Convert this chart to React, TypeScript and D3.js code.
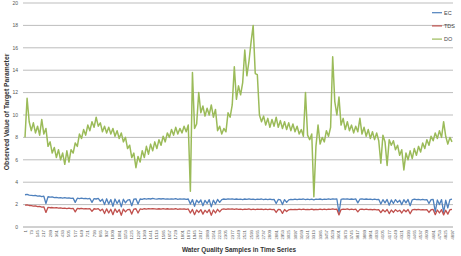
import * as d3 from 'd3';

const W = 461;
const H = 256;

// one stored value every SAMPLE_STEP samples
const SAMPLE_STEP = 24;
const LABEL_STEP = 72;

const doValues = [
  8.0, 11.5, 9.4, 8.6, 9.3, 8.4, 9.0, 8.2, 9.6, 8.3,
  8.8, 7.2, 7.6, 6.6, 7.1, 6.2, 6.9, 6.0, 6.6, 5.6,
  6.8, 5.8, 6.9, 6.6, 7.5, 7.2, 8.3, 7.9, 8.7, 8.2,
  9.1, 8.6, 9.4, 8.9, 9.8, 9.0, 9.3, 8.5, 9.0, 8.4,
  8.9, 8.3, 8.8, 8.1, 8.6, 7.9, 8.4, 7.6, 8.0, 7.0,
  7.3, 6.2, 6.6, 5.3, 6.3, 5.8, 6.8, 6.2, 7.2, 6.5,
  7.4, 6.8, 7.6, 7.0, 7.8, 7.3, 8.1, 7.6, 8.4, 8.0,
  8.7, 8.2, 8.9, 8.3, 8.8, 8.4, 9.0, 8.5, 9.1, 3.2,
  13.8, 8.8, 9.2, 12.0, 10.2, 10.8, 9.9, 10.6, 10.0, 10.9,
  9.8, 10.5, 8.6, 9.0, 8.3, 8.8, 8.5, 10.2, 9.8, 10.9,
  14.3, 11.4, 12.6, 11.8, 12.9, 15.8, 13.5, 14.8, 16.5, 18.0,
  13.7, 13.6, 10.0, 9.4, 9.9, 9.1, 9.7, 8.9, 9.6, 9.0,
  9.8, 8.9, 9.5, 8.8, 9.4, 8.7, 9.3, 8.6, 9.2, 8.5,
  9.0, 8.3, 8.7, 8.1, 12.0, 8.2, 7.8, 8.3, 2.7, 7.2,
  9.1, 7.4, 8.0, 7.6, 8.6, 8.1, 8.9, 15.2, 11.2, 10.0,
  11.6, 9.1, 9.7, 8.7, 9.4, 8.6, 9.1, 8.4, 9.0, 8.5,
  9.7, 8.3, 8.9, 8.1, 8.7, 7.9, 8.5, 7.8, 8.4, 7.7,
  5.7, 8.2, 7.6, 5.5, 7.8, 7.3, 7.7, 6.9, 7.3, 6.4,
  6.9, 5.1, 6.6, 6.0, 6.8, 6.1, 7.0, 6.4, 7.2, 6.7,
  7.5, 7.0, 7.8, 7.3, 8.1, 7.7, 8.4, 7.9, 8.6, 8.0,
  9.4, 8.1, 7.4, 8.0, 7.6,
];

const ecValues = [
  2.88, 2.92, 2.85, 2.83, 2.8, 2.82, 2.76, 2.78, 2.72, 2.75,
  2.1, 2.7, 2.66, 2.68, 2.62, 2.65, 2.6, 2.63, 2.58, 2.62,
  2.57, 2.6, 2.55, 2.58, 2.2, 2.57, 2.54, 2.58, 2.53, 2.56,
  2.52, 2.55, 2.2, 2.54, 2.5, 2.55, 2.3, 2.48, 2.0, 2.52,
  2.05, 2.45, 1.85, 2.5, 2.1, 2.42, 1.8, 2.48, 2.15, 2.4,
  2.45, 1.9, 2.48, 2.52, 2.05, 2.5, 2.46, 2.53, 2.49, 2.54,
  2.5, 2.55, 2.51, 2.48, 2.53, 2.5, 2.54, 2.49, 2.52, 2.48,
  2.52, 2.49, 2.53, 2.47, 2.51, 2.48, 2.52, 2.46, 2.5, 2.05,
  2.45, 1.85, 2.4, 2.15, 2.42, 1.9, 2.38, 2.1, 2.44, 1.8,
  2.4, 2.05, 2.46, 2.2, 2.45, 2.5, 2.47, 2.52, 2.48, 2.51,
  2.47, 2.5, 2.46, 2.49, 2.45, 2.5, 2.47, 2.51, 2.46, 2.49,
  2.45, 2.48, 2.46, 2.5, 2.44, 2.48, 2.45, 2.49, 2.44, 2.47,
  2.1, 2.46, 2.43, 2.0, 2.45, 2.2, 2.42, 2.47, 2.44, 2.48,
  2.45, 2.49, 2.46, 2.5, 2.44, 2.48, 2.45, 2.49, 2.43, 2.48,
  2.46, 2.5, 2.45, 2.49, 2.46, 2.51, 2.47, 2.52, 2.48, 2.5,
  1.25, 2.47, 2.51, 2.48, 2.52, 2.46, 2.5, 2.47, 2.51, 2.15,
  2.48, 2.52, 2.47, 2.5, 2.46, 2.49, 2.45, 2.48, 2.44, 2.47,
  2.05, 2.44, 2.15, 2.46, 1.95, 2.42, 2.1, 2.45, 2.2, 2.4,
  2.0, 2.44, 2.15, 2.46, 1.9, 2.43, 2.48, 2.44, 2.47, 2.43,
  2.46, 2.42, 2.45, 2.1, 2.44, 2.47, 1.35, 2.42, 2.0, 2.45,
  1.3, 2.4, 1.7, 2.44, 2.48,
];

const tdsValues = [
  1.95, 1.98, 1.92, 1.9, 1.86, 1.88, 1.82, 1.84, 1.78, 1.8,
  1.3, 1.76, 1.72, 1.74, 1.7, 1.72, 1.68, 1.7, 1.66, 1.69,
  1.65, 1.68, 1.64, 1.67, 1.35, 1.66, 1.63, 1.66, 1.62, 1.65,
  1.61, 1.64, 1.4, 1.63, 1.6, 1.64, 1.45, 1.6, 1.2, 1.62,
  1.25, 1.58, 1.1, 1.62, 1.3, 1.56, 1.05, 1.6, 1.35, 1.55,
  1.58, 1.15, 1.6, 1.63, 1.25, 1.61, 1.58, 1.63, 1.6, 1.64,
  1.61, 1.65, 1.62, 1.59, 1.63, 1.6, 1.64, 1.6, 1.63, 1.59,
  1.62, 1.59, 1.63, 1.58, 1.62, 1.59, 1.62, 1.57, 1.61, 1.25,
  1.57, 1.1, 1.52, 1.3, 1.55, 1.15, 1.5, 1.28, 1.56, 1.05,
  1.52, 1.25, 1.58, 1.35, 1.57, 1.61, 1.58, 1.62, 1.59, 1.61,
  1.58, 1.61, 1.57, 1.6, 1.56, 1.6, 1.57, 1.61, 1.56, 1.59,
  1.56, 1.59, 1.57, 1.6, 1.55, 1.59, 1.56, 1.59, 1.55, 1.58,
  1.3, 1.57, 1.54, 1.22, 1.56, 1.38, 1.53, 1.58, 1.55, 1.58,
  1.55, 1.59, 1.56, 1.6, 1.55, 1.58, 1.55, 1.59, 1.54, 1.58,
  1.56, 1.6, 1.55, 1.59, 1.56, 1.6, 1.57, 1.61, 1.57, 1.59,
  1.08, 1.56, 1.6, 1.57, 1.61, 1.55, 1.59, 1.56, 1.6, 1.35,
  1.57, 1.6, 1.56, 1.59, 1.55, 1.58, 1.54, 1.57, 1.53, 1.56,
  1.28, 1.54, 1.35, 1.56, 1.2, 1.52, 1.3, 1.55, 1.38, 1.5,
  1.25, 1.54, 1.36, 1.56, 1.18, 1.53, 1.57, 1.54, 1.57, 1.53,
  1.56, 1.52, 1.55, 1.3, 1.54, 1.57, 1.1, 1.52, 1.25, 1.55,
  1.08, 1.5, 1.15, 1.54, 1.57,
];

const yTicks = [0, 2, 4, 6, 8, 10, 12, 14, 16, 18, 20];

const series = [
  { name: 'EC', values: ecValues, color: '#4f81bd', width: 1.3 },
  { name: 'TDS', values: tdsValues, color: '#c0504d', width: 1.3 },
  { name: 'DO', values: doValues, color: '#9bbb59', width: 1.5 },
];

const lastSample = (doValues.length - 1) * SAMPLE_STEP + 1;
const xLabels = d3.range(1, lastSample + 1, LABEL_STEP);

export default function App() {
  const left = 25;
  const right = 452;
  const top = 3;
  const bottom = 227;

  const x = d3.scaleLinear().domain([1, lastSample]).range([left, right]);
  const y = d3.scaleLinear().domain([0, 20]).range([bottom, top]);

  const line = d3
    .line<number>()
    .x((_, i) => x(i * SAMPLE_STEP + 1))
    .y((d) => y(d));

  const font = 'Liberation Sans, Arial, sans-serif';

  return (
    <svg
      width={W}
      height={H}
      style={{ position: 'absolute', left: 0, top: 0, background: '#fff' }}
      fontFamily={font}
    >
      {yTicks.map((t) => (
        <g key={t}>
          {t > 0 && (
            <line
              x1={left - 2}
              x2={right + 1}
              y1={y(t)}
              y2={y(t)}
              stroke="#bdbdbd"
              strokeWidth={1}
            />
          )}
          <text
            x={18}
            y={y(t)}
            dy="0.35em"
            textAnchor="end"
            fontSize={5}
            fill="#555"
          >
            {t}
          </text>
        </g>
      ))}
      <line x1={left - 2} x2={right + 1} y1={bottom} y2={bottom} stroke="#8c8c8c" strokeWidth={0.8} />

      {xLabels.map((v) => (
        <text
          key={v}
          transform={`translate(${x(v)},${bottom + 3}) rotate(-90)`}
          textAnchor="end"
          dy="0.35em"
          fontSize={4.3}
          fill="#555"
        >
          {v}
        </text>
      ))}

      {series.map((s) => (
        <path
          key={s.name}
          d={line(s.values) ?? ''}
          fill="none"
          stroke={s.color}
          strokeWidth={s.width}
          strokeLinejoin="round"
        />
      ))}

      {series.map((s, i) => (
        <g key={s.name} transform={`translate(432,${12.7 + i * 13.2})`}>
          <line x1={0} x2={10} stroke={s.color} strokeWidth={1.2} />
          <text x={12} dy="0.35em" fontSize={5.5} fill="#444">
            {s.name}
          </text>
        </g>
      ))}

      <text
        transform={`translate(7,${112}) rotate(-90)`}
        textAnchor="middle"
        dy="0.35em"
        fontSize={6.8}
        fontWeight="bold"
        fill="#333"
      >
        Observed Value of Target Parameter
      </text>
      <text
        x={239}
        y={250}
        textAnchor="middle"
        dy="0.35em"
        fontSize={6.4}
        fontWeight="bold"
        fill="#333"
      >
        Water Quality Samples in Time Series
      </text>
    </svg>
  );
}
